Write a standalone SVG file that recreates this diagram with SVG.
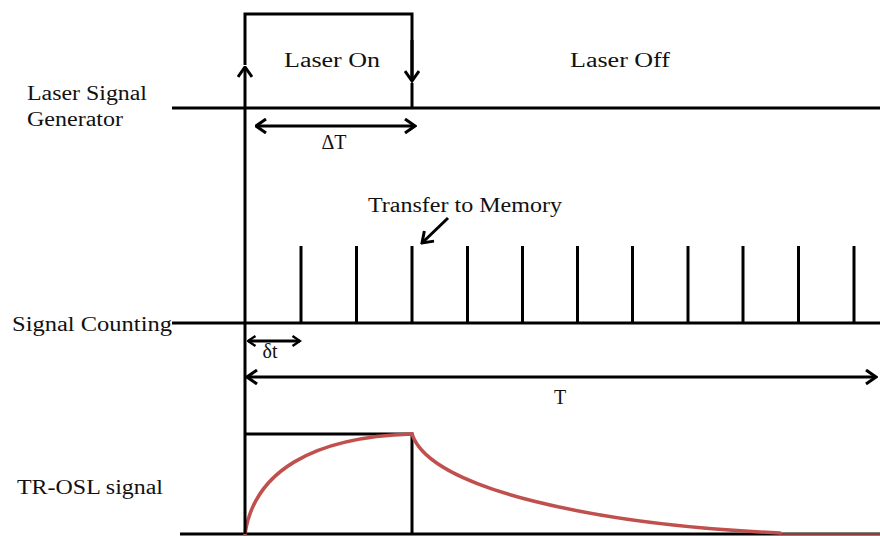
<svg xmlns="http://www.w3.org/2000/svg" width="880" height="536" viewBox="0 0 880 536">
<style>
.ln{stroke:#000;stroke-width:3;fill:none;stroke-linecap:butt}
.t{font-family:"Liberation Serif","Times New Roman",serif;font-size:20px;fill:#111}
.sig{stroke:#C0504D;stroke-width:3.5;fill:none;stroke-linecap:round}
</style>
<defs>
<marker id="ah" viewBox="0 0 16 16" refX="14.5" refY="8" markerWidth="16" markerHeight="16" markerUnits="userSpaceOnUse" orient="auto-start-reverse">
<polyline points="4.5,1 14.5,8 4.5,15" fill="none" stroke="#000" stroke-width="3"/>
</marker>
<marker id="ahs" viewBox="0 0 12 12" refX="10.5" refY="6" markerWidth="12" markerHeight="12" markerUnits="userSpaceOnUse" orient="auto-start-reverse">
<polyline points="3,1 10.5,6 3,11" fill="none" stroke="#000" stroke-width="2.4"/>
</marker>
</defs>
<rect width="880" height="536" fill="#fff"/>
<g id="labels">
<text class="t" x="27" y="100" textLength="120" lengthAdjust="spacingAndGlyphs">Laser Signal</text>
<text class="t" x="27" y="126" textLength="96" lengthAdjust="spacingAndGlyphs">Generator</text>
<text class="t" x="12" y="331" textLength="160" lengthAdjust="spacingAndGlyphs">Signal Counting</text>
<text class="t" x="17" y="494" textLength="146" lengthAdjust="spacingAndGlyphs">TR-OSL signal</text>
</g>
<g id="laser-generator">
<line class="ln" x1="172" y1="108" x2="880" y2="108"/>
<polyline class="ln" points="245,65 245,14 412,14 412,80"/>
<line class="ln" x1="412" y1="83" x2="412" y2="108"/>
<text class="t" x="284" y="67" textLength="96" lengthAdjust="spacingAndGlyphs">Laser  On</text>
<text class="t" x="570" y="67" textLength="100" lengthAdjust="spacingAndGlyphs">Laser  Off</text>
</g>
<g id="signal-counting">
<line class="ln" x1="172" y1="323" x2="880" y2="323"/>
<line class="ln" x1="301" y1="246" x2="301" y2="323"/>
<line class="ln" x1="356.5" y1="246" x2="356.5" y2="323"/>
<line class="ln" x1="412" y1="246" x2="412" y2="323"/>
<line class="ln" x1="467.5" y1="246" x2="467.5" y2="323"/>
<line class="ln" x1="522.5" y1="246" x2="522.5" y2="323"/>
<line class="ln" x1="577.5" y1="246" x2="577.5" y2="323"/>
<line class="ln" x1="632.5" y1="246" x2="632.5" y2="323"/>
<line class="ln" x1="688" y1="246" x2="688" y2="323"/>
<line class="ln" x1="743" y1="246" x2="743" y2="323"/>
<line class="ln" x1="798.5" y1="246" x2="798.5" y2="323"/>
<line class="ln" x1="854" y1="246" x2="854" y2="323"/>
<text class="t" x="368" y="212" textLength="194" lengthAdjust="spacingAndGlyphs">Transfer to Memory</text>
</g>
<g id="tr-osl">
<line class="ln" x1="180" y1="534" x2="880" y2="534"/>
<polyline class="ln" points="245,434 412,434 412,534"/>
<path class="sig" d="M245,534 C254,472 312,437 412,434"/>
<path class="sig" d="M412,434 C430,490 600,525 780,533"/>
<line x1="780" y1="534" x2="880" y2="534" stroke="#C0504D" stroke-width="1.5"/>
</g>
<g id="connectors">
<line class="ln" x1="245" y1="534" x2="245" y2="67" marker-end="url(#ah)"/>
<line class="ln" x1="412" y1="40" x2="412" y2="81" marker-end="url(#ah)"/>
<line class="ln" x1="256" y1="126" x2="415" y2="126" marker-start="url(#ah)" marker-end="url(#ah)"/>
<line class="ln" x1="248" y1="341" x2="300" y2="341" stroke-width="2.5" marker-start="url(#ahs)" marker-end="url(#ahs)"/>
<line class="ln" x1="247" y1="377" x2="876" y2="377" marker-start="url(#ah)" marker-end="url(#ah)"/>
<line class="ln" x1="448" y1="218" x2="422" y2="243" marker-end="url(#ah)"/>
<text class="t" x="334" y="149" text-anchor="middle" font-size="22">ΔT</text>
<text class="t" x="270" y="358" text-anchor="middle">δt</text>
<text class="t" x="560" y="404" text-anchor="middle" font-size="21">T</text>
</g>
</svg>
